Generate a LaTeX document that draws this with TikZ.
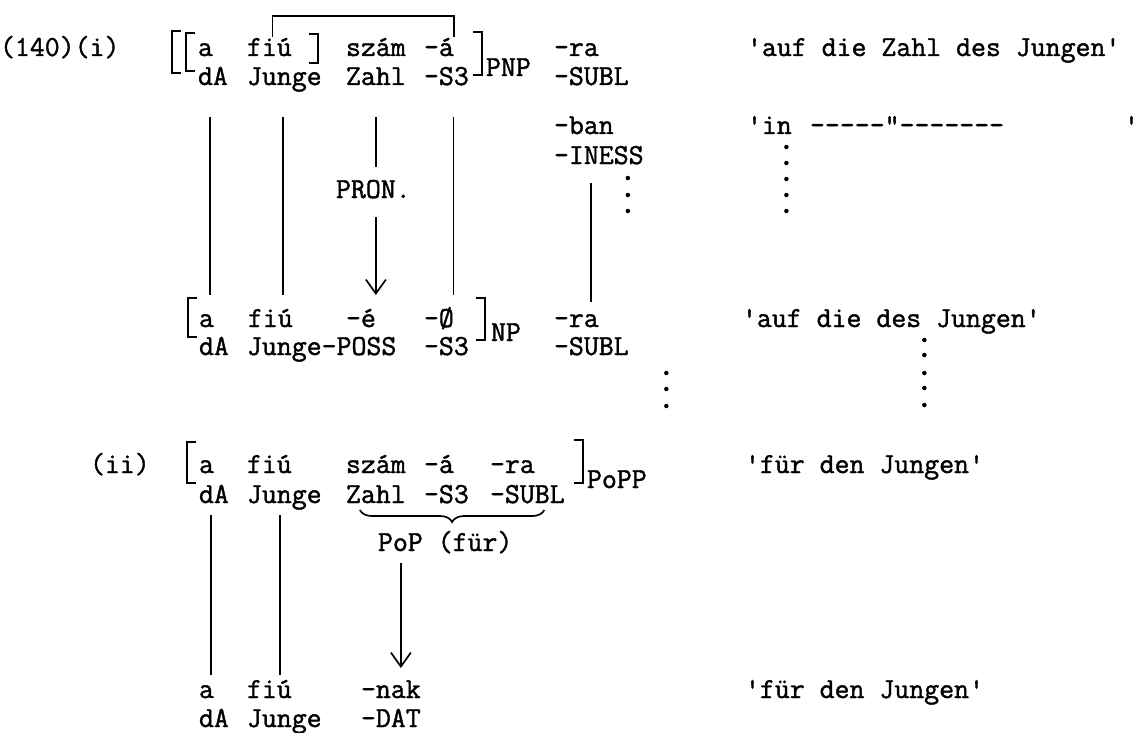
\documentclass[tikz,border=0pt]{standalone}
\usepackage{fontspec}
\setmonofont[FakeBold=1.4]{Latin Modern Mono}
\usetikzlibrary{arrows.meta,decorations.pathreplacing,calc}

\begin{document}
\begin{tikzpicture}[x=1pt,y=-1pt,
  tw/.style={anchor=base west,inner sep=0pt,outer sep=0pt,font=\fontsize{29}{34}\selectfont\ttfamily},
  rule/.style={line width=1.7pt},
  brk/.style={line width=2.8pt},
  pointer/.style={rule,-{Straight Barb[length=14pt,width=20pt,line width=1.7pt]}},
  dotmark/.style={circle,fill,inner sep=0pt,minimum size=4.5pt}]
\useasboundingbox (0,0) rectangle (1137,733);

% ---------- (140)(i), upper structure ----------
\node[tw] (num)    at (0,56)   {(140)(i)};
\node[tw] (aI)     at (198,56) {a};
\node[tw] (fiuI)   at (247,56) {fiú};
\node[tw] (szamI)  at (346,56) {szám};
\node[tw] (aacI)   at (424,56) {-á};
\node[tw] (pnp)    at (486,76) {PNP};
\node[tw] (raI)    at (554,56) {-ra};
\node[tw] (glI)    at (747,56) {'auf die Zahl des Jungen'};
\node[tw] (dAI)    at (198,85) {dA};
\node[tw] (JungeI) at (247,85) {Junge};
\node[tw] (ZahlI)  at (346,85) {Zahl};
\node[tw] (S3I)    at (424,85) {-S3};
\node[tw] (SUBLI)  at (554,85) {-SUBL};
\node[tw] (ban)    at (554,134) {-ban};
\node[tw] (inq)    at (747,134) {'in};
\node[tw] (ditto)  at (810,134) {-----"-------};
\node[tw] (inqe)   at (1124,134) {'};
\node[tw] (INESS)  at (554,164) {-INESS};
\node[tw] (pron)   at (336,198) {PRON.};

% brackets of the upper structure
\draw[brk] (181,31) -- (172,31) -- (172,73) -- (181,73);
\draw[brk] (195,33) -- (186,33) -- (186,71) -- (195,71);
\draw[brk] (309,34) -- (318,34) -- (318,63) -- (309,63);
\draw[brk] (473,32) -- (482,32) -- (482,75) -- (473,75);

% link between fiú and -á
\draw[rule] ($(fiuI.base)+(3,-19)$) |- ($(aacI.base)+(15,-40)$) -- ($(aacI.base)+(15,-19)$);

% dotted continuations, upper right
\foreach \d in {13,29,45,61,77} \node[dotmark] at ($(inq.base)+(17,\d)$) {};
\foreach \d in {14,31,47} \node[dotmark] at ($(INESS.base)+(29,\d)$) {};

% ---------- NP ----------
\node[tw] (aNP)    at (199,327) {a};
\node[tw] (fiuNP)  at (248,327) {fiú};
\node[tw] (eNP)    at (346,327) {-é};
\node[tw] (oNP)    at (424,327) {-Ø};
\node[tw] (np)     at (491,341) {NP};
\node[tw] (raNP)   at (554,327) {-ra};
\node[tw] (glNP)   at (742,327) {'auf die des Jungen'};
\node[tw] (dANP)   at (199,355) {dA};
\node[tw] (JungeNP) at (247,355) {Junge-POSS};
\node[tw] (S3NP)   at (424,355) {-S3};
\node[tw] (SUBLNP) at (554,355) {-SUBL};

\draw[brk] (197,298) -- (188,298) -- (188,337) -- (197,337);
\draw[brk] (476,298) -- (485,298) -- (485,340) -- (476,340);

\foreach \d in {18,34,51} \node[dotmark] at ($(SUBLNP.base)+(75,\d)$) {};
\foreach \d in {13,28,46,61,78} \node[dotmark] at ($(glNP.base)+(33,\d)$) {};

% links from the upper structure down to NP
\draw[rule] ($(dAI.base)+(-3,32)$) -- ($(dAI.base |- aNP.base)+(-3,-32)$);
\draw[rule] ($(JungeI.base)+(-1,32)$) -- ($(JungeI.base |- fiuNP.base)+(-1,-32)$);
\draw[rule] ($(ZahlI.base)+(0,32)$) -- ($(ZahlI.base |- pron.base)+(0,-31)$);
\draw[pointer] ($(ZahlI.base |- pron.base)+(0,19)$) -- ($(ZahlI.base |- eNP.base)+(0,-32)$);
\draw[rule] ($(S3I.base)+(7,32)$) -- ($(S3I.base |- oNP.base)+(7,-32)$);
\draw[rule] ($(INESS.base)+(-8,19)$) -- ($(INESS.base |- raNP.base)+(-8,-25)$);

% ---------- (ii) ----------
\node[tw] (ii)      at (90,473)  {(ii)};
\node[tw] (aII)     at (199,473) {a};
\node[tw] (fiuII)   at (247,473) {fiú};
\node[tw] (szamII)  at (346,473) {szám};
\node[tw] (aacII)   at (424,473) {-á};
\node[tw] (raII)    at (490,473) {-ra};
\node[tw] (popp)    at (587,488) {PoPP};
\node[tw] (glII)    at (745,473) {'für den Jungen'};
\node[tw] (dAII)    at (199,503) {dA};
\node[tw] (JungeII) at (247,503) {Junge};
\node[tw] (ZahlII)  at (346,503) {Zahl};
\node[tw] (S3II)    at (424,503) {-S3};
\node[tw] (SUBLII)  at (490,503) {-SUBL};
\node[tw] (pop)     at (378,551) {PoP (für)};

\draw[brk] (196,442) -- (187,442) -- (187,483) -- (196,483);
\draw[brk] (574,440) -- (583,440) -- (583,483) -- (574,483);

\draw[rule,decorate,decoration={brace,mirror,amplitude=12pt}]
  ($(ZahlII.base)+(-16,7)$) -- ($(SUBLII.base)+(17,7)$);

% ---------- result ----------
\node[tw] (aIII)     at (199,698) {a};
\node[tw] (fiuIII)   at (247,698) {fiú};
\node[tw] (nak)      at (361,698) {-nak};
\node[tw] (glIII)    at (745,698) {'für den Jungen'};
\node[tw] (dAIII)    at (199,727) {dA};
\node[tw] (JungeIII) at (247,727) {Junge};
\node[tw] (DAT)      at (361,727) {-DAT};

\draw[rule] ($(dAII.base)+(-3,12)$) -- ($(dAII.base |- aIII.base)+(-3,-23)$);
\draw[rule] ($(JungeII.base)+(-4,12)$) -- ($(JungeII.base |- fiuIII.base)+(-4,-23)$);
\draw[pointer] ($(nak.base |- pop.base)+(10,12)$) -- ($(nak.base)+(10,-30)$);
\end{tikzpicture}
\end{document}
